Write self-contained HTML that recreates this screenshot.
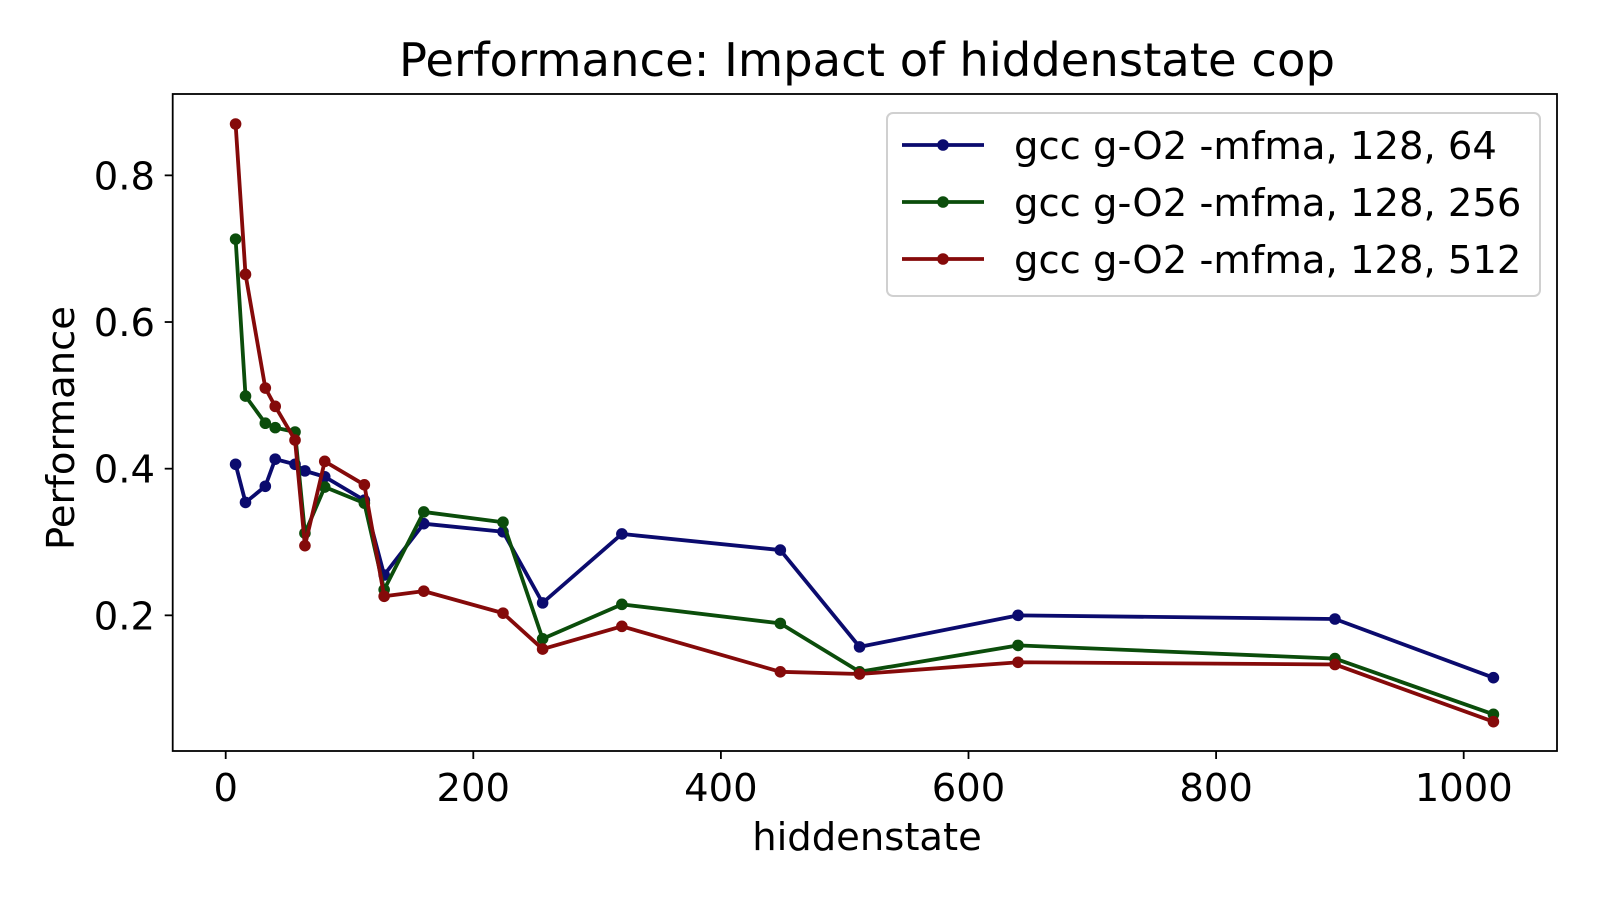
<!DOCTYPE html>
<html><head><meta charset="utf-8"><style>
body{margin:0;background:#fff;}
svg{display:block;font-family:"DejaVu Sans","Liberation Sans",sans-serif;}
</style></head><body>
<svg id="chart" width="1600" height="900">
<rect width="1600" height="900" fill="#fff"/>
<text x="867" y="76" font-size="46.5" text-anchor="middle">Performance: Impact of hiddenstate cop</text>
<g id="plot"></g>
<rect x="172.7" y="94" width="1384.3" height="657" fill="none" stroke="#000" stroke-width="1.8"/>
<text x="867" y="850" font-size="38.5" text-anchor="middle">hiddenstate</text>
<text x="0" y="0" font-size="38.5" text-anchor="middle" transform="translate(74,428) rotate(-90)">Performance</text>
<g id="legend">
<rect x="887" y="113" width="653" height="183" rx="6" fill="#fff" stroke="#d0d0d0" stroke-width="2"/>
</g>
</svg>
<script>
const categories=[8,16,32,40,56,64,80,112,128,160,224,256,320,448,512,640,896,1024];
const series64=[0.406,0.354,0.376,0.413,0.406,0.397,0.389,0.357,0.255,0.325,0.314,0.217,0.311,0.289,0.157,0.200,0.195,0.115];
const series256=[0.713,0.499,0.462,0.456,0.450,0.312,0.375,0.353,0.235,0.341,0.327,0.168,0.215,0.189,0.123,0.159,0.141,0.065];
const series512=[0.870,0.665,0.510,0.485,0.439,0.295,0.410,0.378,0.226,0.233,0.203,0.154,0.185,0.123,0.120,0.136,0.133,0.055];
const seriesNames=["gcc g-O2 -mfma, 128, 64","gcc g-O2 -mfma, 128, 256","gcc g-O2 -mfma, 128, 512"];
const xTicks=[0,200,400,600,800,1000];
const yTicks=[0.2,0.4,0.6,0.8];
const NS="http://www.w3.org/2000/svg";
const xs=v=>225.7+v*1.238;
const ys=v=>762-v*733.3;
const plot=document.getElementById('plot');
function mk(t,a,p){const e=document.createElementNS(NS,t);for(const k in a)e.setAttribute(k,a[k]);(p||plot).appendChild(e);return e;}
xTicks.forEach(t=>{
 const l=mk('line',{x1:xs(t),x2:xs(t),y1:751,y2:759,stroke:'#000','stroke-width':1.8});
 
 
 const tx=mk('text',{x:xs(t),y:801,'font-size':38.5,'text-anchor':'middle'});tx.textContent=t;
 
 
});
yTicks.forEach(t=>{
 const l=mk('line',{x1:164.7,x2:172.7,y1:ys(t),y2:ys(t),stroke:'#000','stroke-width':1.8});
 
 
 const tx=mk('text',{x:155,y:ys(t)+14,'font-size':38.5,'text-anchor':'end'});tx.textContent=t.toFixed(1);
 
 
});
const colors=['#0b0b6e','#0b4d0b','#850a0a'];
const all=[series64,series256,series512];
const lnames=['series-64','series-256','series-512'];
all.forEach((s,i)=>{
 const g=mk('g',{});
 
 
 const pl=mk('polyline',{points:s.map((v,j)=>xs(categories[j])+','+ys(v)).join(' '),fill:'none',stroke:colors[i],'stroke-width':3.8,'stroke-linejoin':'round'},g);
 
 
 s.forEach((v,j)=>{
  const c=mk('circle',{cx:xs(categories[j]),cy:ys(v),r:5.8,fill:colors[i]},g);
  
  
 });
 const lg=document.getElementById('legend');
 const y=145+i*57;
 const ll=mk('line',{x1:902,x2:984,y1:y,y2:y,stroke:colors[i],'stroke-width':3.8},lg);
 
 
 const lc=mk('circle',{cx:943,cy:y,r:5.8,fill:colors[i]},lg);
 
 
 const lt=mk('text',{x:1014,y:y+14,'font-size':38.5},lg);lt.textContent=seriesNames[i];
 
 
});
</script>
</body></html>
